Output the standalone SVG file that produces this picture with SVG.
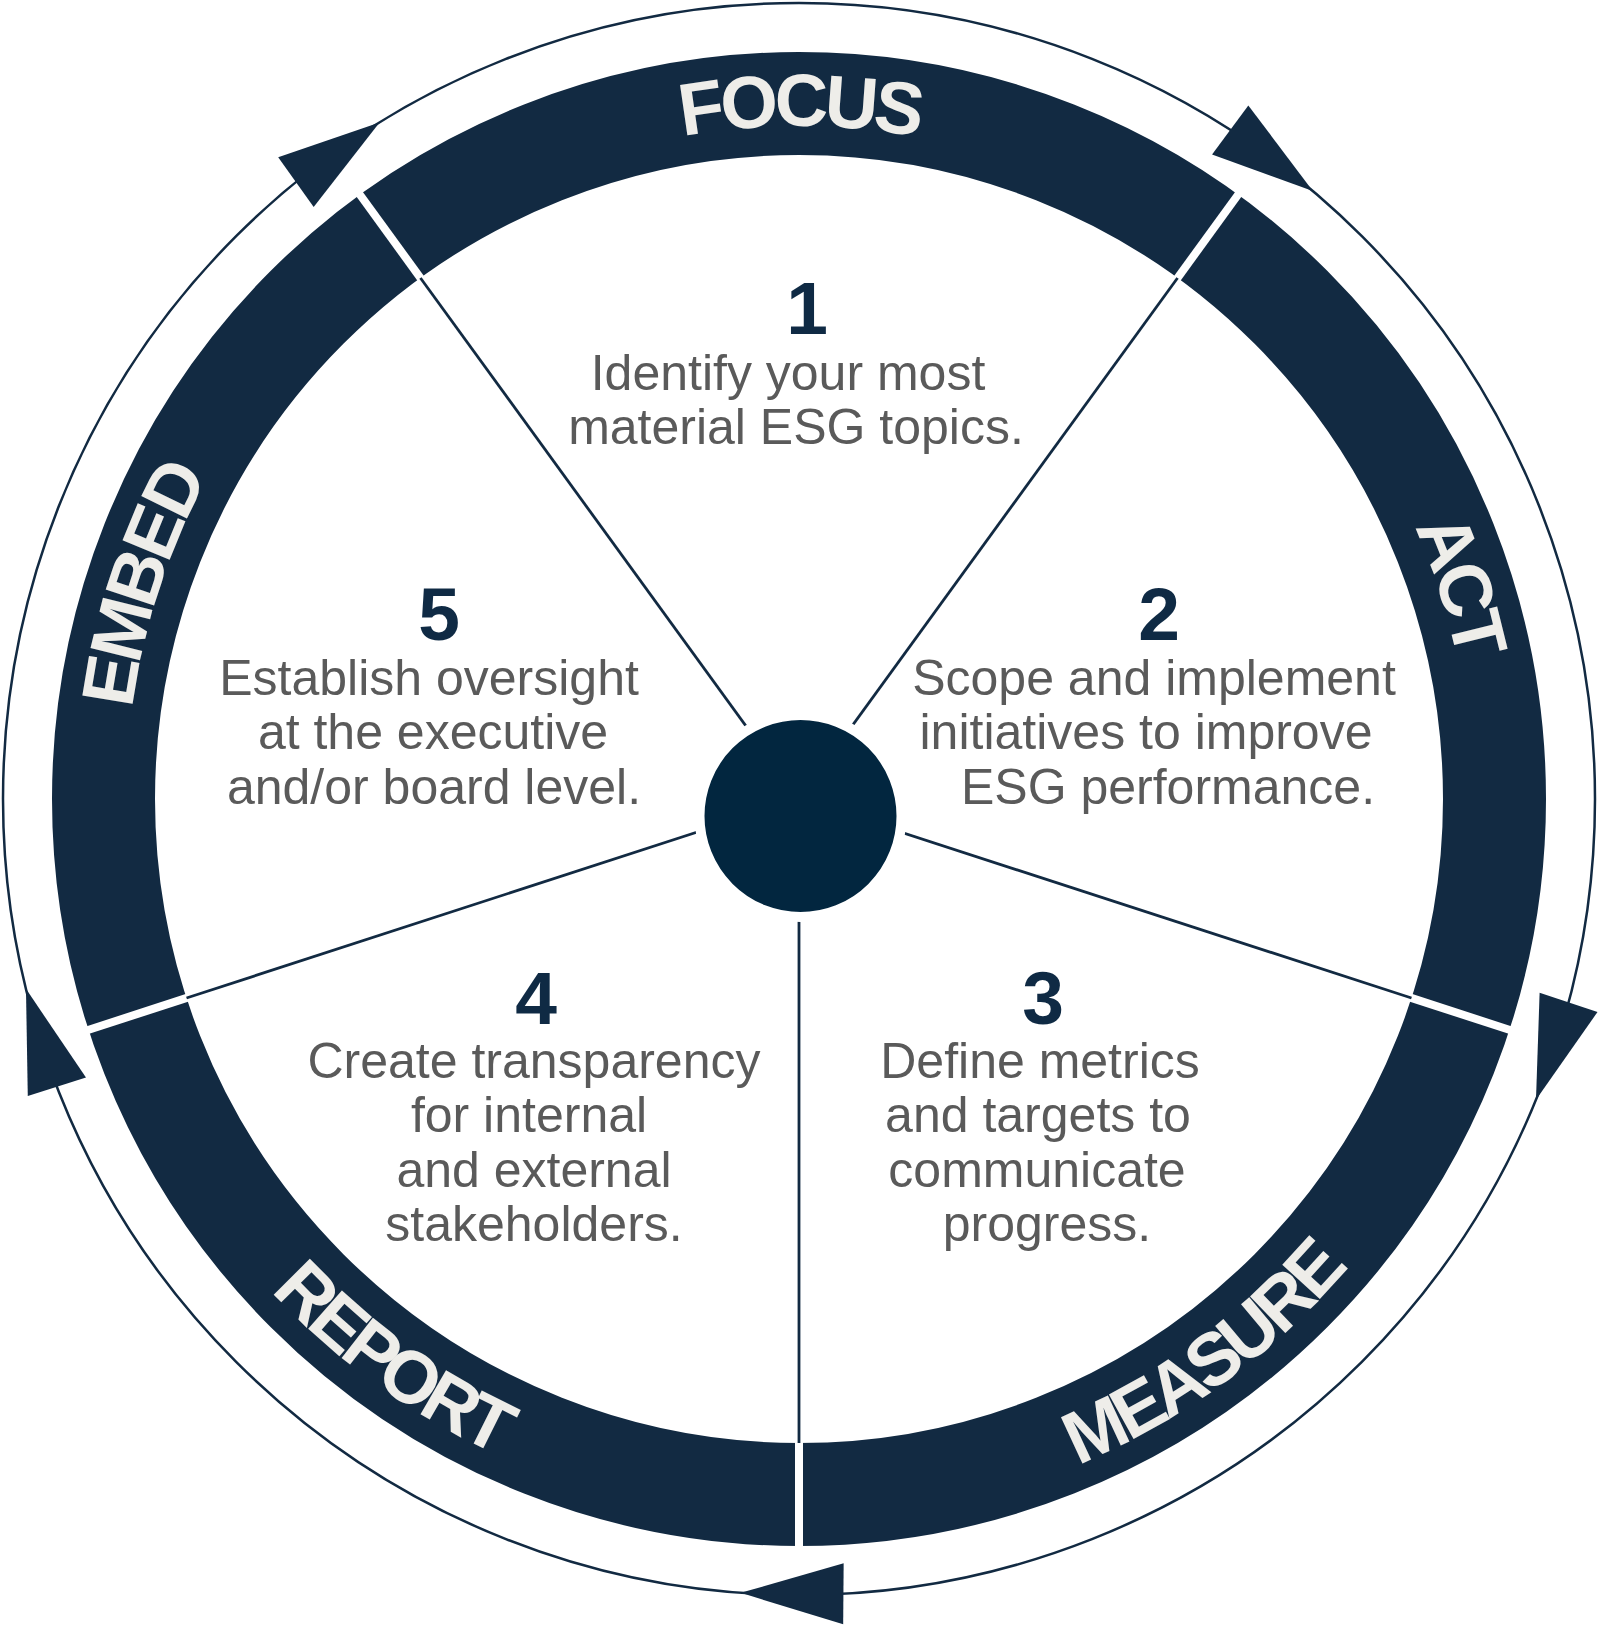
<svg xmlns="http://www.w3.org/2000/svg" xmlns:xlink="http://www.w3.org/1999/xlink" width="1600" height="1626" viewBox="0 0 1600 1626">
<style>
.navy{fill:#122a42}
.ringlbl{font-family:"Liberation Sans",Arial,sans-serif;font-weight:bold;font-size:74px;fill:#eeede9;letter-spacing:-5px}
.num{font-family:"Liberation Sans",Arial,sans-serif;font-weight:bold;font-size:75px;fill:#0f2a44;text-anchor:middle}
.desc{font-family:"Liberation Sans",Arial,sans-serif;font-size:50px;fill:#5a5a5a;text-anchor:middle}
</style>
<defs>
<polygon id="arrowhead" points="1595,799 1618.8,694.5 1557.9,698.5"/>
<path id="pFocus" d="M126,799 A673,673 0 0 1 1472,799"/>
<path id="pAct" d="M591.0,158.9 A673,673 0 0 1 1007.0,1439.1"/>
<path id="pEmbed" d="M591.0,1439.1 A673,673 0 0 1 1007.0,158.9"/>
<path id="pMeasure" d="M214.9,1223.4 A722,722 0 0 0 1383.1,374.6"/>
<path id="pReport" d="M214.9,374.6 A722,722 0 0 0 1383.1,1223.4"/>
</defs>
<rect width="1600" height="1626" fill="#ffffff"/>
<g id="cycle-connectors">
<circle cx="799" cy="799" r="796" fill="none" stroke="#122a42" stroke-width="2.5"/>
<use href="#arrowhead" class="navy" transform="rotate(22.2 799 799)"/>
<use href="#arrowhead" class="navy" transform="rotate(94.2 799 799)"/>
<use href="#arrowhead" class="navy" transform="rotate(166.2 799 799)"/>
<use href="#arrowhead" class="navy" transform="rotate(238.2 799 799)"/>
<use href="#arrowhead" class="navy" transform="rotate(310.2 799 799)"/>
</g>
<g id="ring">
<circle cx="799" cy="799" r="695.5" fill="none" stroke="#122a42" stroke-width="103"/>
<g stroke="#ffffff" stroke-width="8">
<line x1="1437" y1="799" x2="1553" y2="799" transform="rotate(18 799 799)"/>
<line x1="1437" y1="799" x2="1553" y2="799" transform="rotate(90 799 799)"/>
<line x1="1437" y1="799" x2="1553" y2="799" transform="rotate(162 799 799)"/>
<line x1="1437" y1="799" x2="1553" y2="799" transform="rotate(234 799 799)"/>
<line x1="1437" y1="799" x2="1553" y2="799" transform="rotate(306 799 799)"/>
</g>
</g>
<g id="dividers" stroke="#122a42" stroke-width="2.8">
<line x1="799" y1="799" x2="1443" y2="799" transform="rotate(18 799 799)"/>
<line x1="799" y1="799" x2="1443" y2="799" transform="rotate(90 799 799)"/>
<line x1="799" y1="799" x2="1443" y2="799" transform="rotate(162 799 799)"/>
<line x1="799" y1="799" x2="1443" y2="799" transform="rotate(234 799 799)"/>
<line x1="799" y1="799" x2="1443" y2="799" transform="rotate(306 799 799)"/>
</g>
<g id="hub">
<circle cx="800.5" cy="816" r="101" fill="#02263f" stroke="#ffffff" stroke-width="10"/>
</g>
<g id="label-focus"><text class="ringlbl" text-anchor="middle"><textPath href="#pFocus" startOffset="50%">FOCUS</textPath></text></g>
<g id="label-act"><text class="ringlbl" text-anchor="middle"><textPath href="#pAct" startOffset="50%">ACT</textPath></text></g>
<g id="label-measure"><text class="ringlbl" text-anchor="middle"><textPath href="#pMeasure" startOffset="50%">MEASURE</textPath></text></g>
<g id="label-report"><text class="ringlbl" text-anchor="middle"><textPath href="#pReport" startOffset="50%">REPORT</textPath></text></g>
<g id="label-embed"><text class="ringlbl" text-anchor="middle"><textPath href="#pEmbed" startOffset="50%">EMBED</textPath></text></g>
<g id="step-1">
<text class="num" x="807" y="334">1</text>
<text class="desc" x="788" y="390">Identify your most</text>
<text class="desc" x="796" y="444">material ESG topics.</text>
</g>
<g id="step-2">
<text class="num" x="1159" y="640">2</text>
<text class="desc" x="1154" y="695">Scope and implement</text>
<text class="desc" x="1146" y="749">initiatives to improve</text>
<text class="desc" x="1168" y="804">ESG performance.</text>
</g>
<g id="step-3">
<text class="num" x="1043" y="1024">3</text>
<text class="desc" x="1040" y="1078">Define metrics</text>
<text class="desc" x="1038" y="1132">and targets to</text>
<text class="desc" x="1037" y="1187">communicate</text>
<text class="desc" x="1047" y="1241">progress.</text>
</g>
<g id="step-4">
<text class="num" x="536" y="1024">4</text>
<text class="desc" x="534" y="1078">Create transparency</text>
<text class="desc" x="529" y="1132">for internal</text>
<text class="desc" x="534" y="1187">and external</text>
<text class="desc" x="534" y="1241">stakeholders.</text>
</g>
<g id="step-5">
<text class="num" x="439" y="640">5</text>
<text class="desc" x="429" y="695">Establish oversight</text>
<text class="desc" x="433" y="749">at the executive</text>
<text class="desc" x="434" y="804">and/or board level.</text>
</g>
</svg>
